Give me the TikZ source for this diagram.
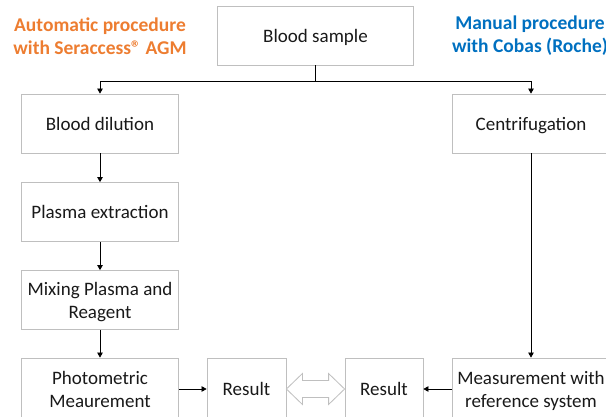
\documentclass[tikz,border=0pt]{standalone}
\usepackage{fontspec}
\setmainfont{Carlito}
\usetikzlibrary{arrows.meta,calc}
\definecolor{boxgray}{RGB}{191,191,191}
\definecolor{autoorange}{RGB}{237,125,49}
\definecolor{manualblue}{RGB}{0,112,192}
\begin{document}
\begin{tikzpicture}[x=1pt, y=-1pt,
        stepbox/.style={draw=boxgray, line width=0.8pt, fill=white, minimum width=157pt,
            minimum height=59pt, inner sep=0pt, align=center, text depth=0pt,
            font=\fontsize{19}{23}\selectfont, text=black!90},
        flow/.style={-{Triangle[length=5pt,width=5.5pt]}, line width=0.7pt},
        proctitle/.style={align=center, font=\fontsize{19.5}{23}\selectfont\bfseries}]
    \useasboundingbox (0,0) rectangle (606,417);
    % titles of the two procedures
    \node [proctitle, text=autoorange] (auto title) at (100,36) {Automatic procedure\\with Seraccess® AGM};
    \node [proctitle, text=manualblue] (manual title) at (530,36) {Manual procedure\\with Cobas (Roche)};
    % boxes
    \node [stepbox, minimum width=196pt] (sample) at (315.5,35.5) {Blood sample};
    \node [stepbox] (dilution) at (100,123.5) {Blood dilution};
    \node [stepbox] (extraction) at (100,212) {Plasma extraction};
    \node [stepbox] (mixing) at (100,300) {Mixing Plasma and\\Reagent};
    \node [stepbox, minimum height=62pt] (photo) at (100,389) {Photometric\\Meaurement};
    \node [stepbox, minimum width=79pt, minimum height=62pt] (result auto) at (246.5,389) {Result};
    \node [stepbox, minimum width=78pt, minimum height=62pt] (result manual) at (384,389) {Result};
    \node [stepbox] (centri) at (531,123.5) {Centrifugation};
    \node [stepbox, minimum height=62pt] (measure) at (531,389) {Measurement with\\reference system};
    % connectors
    \coordinate (split) at (315.5,81);
    \draw [line width=0.7pt] (sample) -- (split);
    \draw [flow] (split) -| (dilution);
    \draw [flow] (split) -| (centri);
    \draw [flow] (dilution) -- (extraction);
    \draw [flow] (extraction) -- (mixing);
    \draw [flow] (mixing) -- (photo);
    \draw [flow] (centri) -- (measure);
    \draw [flow] (photo.east |- result auto) -- (result auto);
    \draw [flow] (measure.west |- result manual) -- (result manual);
    % open double arrow between the two results
    \coordinate (tip a) at (result auto.east);
    \coordinate (tip b) at (result manual.west);
    \draw [boxgray, line width=0.8pt, fill=white, line join=miter]
        (tip a) -- ($(tip a)+(16,-15.5)$) -- ($(tip a)+(16,-8.5)$)
        -- ($(tip b)+(-16,-8.5)$) -- ($(tip b)+(-16,-15.5)$) -- (tip b)
        -- ($(tip b)+(-16,15.5)$) -- ($(tip b)+(-16,8.5)$)
        -- ($(tip a)+(16,8.5)$) -- ($(tip a)+(16,15.5)$) -- cycle;
\end{tikzpicture}
\end{document}
